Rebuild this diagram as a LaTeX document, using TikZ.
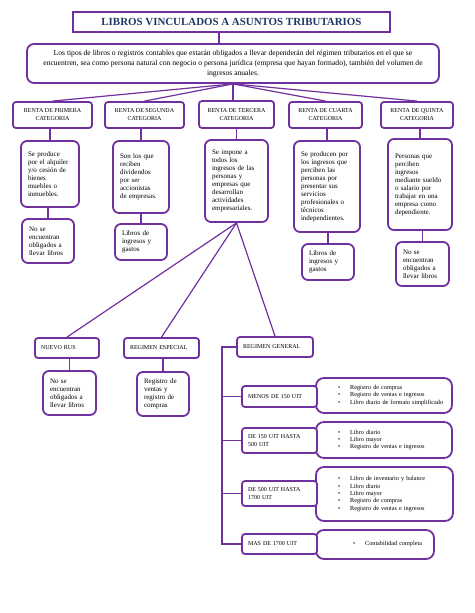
\documentclass[tikz,border=0pt]{standalone}
\usepackage{fontspec}
\setmainfont{Liberation Serif}
\usepackage{xcolor}
\usepackage{tikz}
\usetikzlibrary{positioning}

\definecolor{morado}{HTML}{7030A0}
\definecolor{azul}{HTML}{1F3864}

\begin{document}
\begin{tikzpicture}[
    x=1pt, y=-1pt,
    titulo/.style={rectangle, draw=morado, line width=1.8pt, fill=white, text=azul, font=\bfseries\fontsize{10.9}{13}\selectfont, minimum width=317pt, minimum height=20pt, inner sep=0pt},
    intro/.style={rectangle, rounded corners=7pt, draw=morado, line width=1.8pt, fill=white, align=center, font=\fontsize{7.6}{10}\selectfont, minimum width=412pt, minimum height=39pt, inner sep=0pt},
    renta/.style={rectangle, rounded corners=3pt, draw=morado, line width=1.8pt, fill=white, align=center, font=\fontsize{6}{8}\selectfont, minimum height=26pt, inner sep=0pt},
    caja/.style={rectangle, rounded corners=6pt, draw=morado, line width=1.8pt, fill=white, align=left, font=\fontsize{7}{8}\selectfont, inner xsep=7pt, inner ysep=0pt},
    regimen/.style={rectangle, rounded corners=3pt, draw=morado, line width=1.8pt, fill=white, align=left, font=\fontsize{6}{8}\selectfont, inner xsep=6pt, inner ysep=0pt, text width=63pt, minimum height=20pt},
    lista/.style={rectangle, rounded corners=8pt, draw=morado, line width=1.8pt, fill=white, align=left, font=\fontsize{6.2}{7.3}\selectfont, inner sep=0pt},
    linea/.style={draw=morado, line width=1.2pt}
]
\useasboundingbox (0,0) rectangle (474,613);

% titulo y texto general
\node[titulo] (titulo) at (231.5,22) {LIBROS VINCULADOS A ASUNTOS TRIBUTARIOS};
\node[intro] (intro) at (233,63.5) {Los tipos de libros o registros contables que estarán obligados a llevar dependerán del régimen tributarios en el que se\\encuentren, sea como persona natural con negocio o persona jurídica (empresa que hayan formado), también del volumen de\\ingresos anuales.};

% categorias de renta
\node[renta, minimum width=79pt] (r1) at (52.5,115) {RENTA DE PRIMERA\\CATEGORIA};
\node[renta, minimum width=79pt] (r2) at (144.5,115) {RENTA DE SEGUNDA\\CATEGORIA};
\node[renta, minimum width=75pt, minimum height=27pt] (r3) at (236.5,114.5) {RENTA DE TERCERA\\CATEGORIA};
\node[renta, minimum width=73pt] (r4) at (325.5,115) {RENTA DE CUARTA\\CATEGORIA};
\node[renta, minimum width=72pt] (r5) at (417,115) {RENTA DE QUINTA\\CATEGORIA};

% descripciones
\node[caja, text width=44pt, minimum height=66pt] (d1) at (50,174) {Se produce\\por el alquiler\\y/o cesión de\\bienes\\muebles o\\inmuebles.};
\node[caja, text width=38pt, minimum height=44pt] (d1b) at (48,241) {No se\\encuentran\\obligados a\\llevar libros};
\node[caja, text width=42pt, minimum height=72pt] (d2) at (141,177) {Son los que\\reciben\\dividendos\\por ser\\accionistas\\de empresas.};
\node[caja, text width=38pt, minimum height=36pt] (d2b) at (141,242) {Libros de\\ingresos y\\gastos};
\node[caja, text width=49pt, minimum height=82pt] (d3) at (236.5,181) {Se impone a\\todos los\\ingresos de las\\personas y\\empresas que\\desarrollan\\actividades\\empresariales.};
\node[caja, text width=52pt, minimum height=91pt] (d4) at (327,186.5) {Se producen por\\los ingresos que\\perciben las\\personas por\\presentar sus\\servicios\\profesionales o\\técnicos\\independientes.};
\node[caja, text width=38pt, minimum height=36pt] (d4b) at (328,262) {Libros de\\ingresos y\\gastos};
\node[caja, text width=50pt, minimum height=91pt] (d5) at (420,184.5) {Personas que\\perciben\\ingresos\\mediante sueldo\\o salario por\\trabajar en una\\empresa como\\dependiente.};
\node[caja, text width=39pt, minimum height=44pt] (d5b) at (422.5,264) {No se\\encuentran\\obligados a\\llevar libros};

% regimenes de tercera
\node[regimen, text width=52pt] (rus) at (67,348) {NUEVO RUS};
\node[caja, text width=39pt, minimum height=44pt] (rusd) at (69.5,393) {No se\\encuentran\\obligados a\\llevar libros};
\node[regimen] (esp) at (161.5,348) {REGIMEN ESPECIAL};
\node[caja, text width=38pt, minimum height=44pt] (espd) at (163,394) {Registro de\\ventas y\\registro de\\compras};
\node[regimen, text width=64pt] (gen) at (275,347) {REGIMEN GENERAL};

% libros del regimen general
\node[lista, text width=136pt, minimum height=35pt] (l1) at (384,395.5) {\begin{tabular}{@{\hspace{22pt}}l@{\hspace{10pt}}l@{}}
\textbullet & Registro de compras\\
\textbullet & Registro de ventas e ingresos\\
\textbullet & Libro diario de formato simplificado
\end{tabular}};
\node[lista, text width=136pt, minimum height=36pt] (l2) at (384,440) {\begin{tabular}{@{\hspace{22pt}}l@{\hspace{10pt}}l@{}}
\textbullet & Libro diario\\
\textbullet & Libro mayor\\
\textbullet & Registro de ventas e ingresos
\end{tabular}};
\node[lista, text width=137pt, minimum height=54pt] (l3) at (384.5,494) {\begin{tabular}{@{\hspace{22pt}}l@{\hspace{10pt}}l@{}}
\textbullet & Libro de inventario y balance\\
\textbullet & Libro diario\\
\textbullet & Libro mayor\\
\textbullet & Registro de compras\\
\textbullet & Registro de ventas e ingresos
\end{tabular}};
\node[lista, text width=118pt, minimum height=29pt] (l4) at (375,544.5) {\begin{tabular}{@{\hspace{37pt}}l@{\hspace{10pt}}l@{}}
\textbullet & Contabilidad completa
\end{tabular}};

\node[regimen, minimum height=21pt] (u1) at (279.5,396.5) {MENOS DE 150 UIT};
\node[regimen, minimum height=25pt] (u2) at (279.5,440.5) {DE 150 UIT HASTA\\500 UIT};
\node[regimen, minimum height=25pt] (u3) at (279.5,493.5) {DE 500 UIT HASTA\\1700 UIT};
\node[regimen] (u4) at (279.5,544) {MAS DE 1700 UIT};

% conectores
\draw[linea] ([xshift=-12.5pt]titulo.south) -- ([xshift=-12.5pt]titulo.south |- intro.north);
\draw[linea] (intro.south) -- (r1.north);
\draw[linea] (intro.south) -- (r2.north);
\draw[linea] (intro.south) -- (intro.south |- r3.north);
\draw[linea] (intro.south) -- (r4.north);
\draw[linea] (intro.south) -- (r5.north);

\draw[linea] (d1.north) -- (d1.north |- r1.south);
\draw[linea] (d1b.north) -- (d1b.north |- d1.south);
\draw[linea] (d2.north) -- (d2.north |- r2.south);
\draw[linea] (d2b.north) -- (d2b.north |- d2.south);
\draw[linea] (d3.north) -- (d3.north |- r3.south);
\draw[linea] (d4.north) -- (d4.north |- r4.south);
\draw[linea] (d4b.north) -- (d4b.north |- d4.south);
\draw[linea] (d5.north) -- (d5.north |- r5.south);
\draw[linea] (d5b.north) -- (d5b.north |- d5.south);

\draw[linea] (d3.south) -- (rus.north);
\draw[linea] (d3.south) -- (esp.north);
\draw[linea] (d3.south) -- (gen.north);
\draw[linea] (rusd.north) -- (rusd.north |- rus.south);
\draw[linea] (espd.north) -- (espd.north |- esp.south);

\coordinate (riel) at (222,347);
\draw[linea] (gen.west) -- (riel) |- (u4.west);
\foreach \u in {u1,u2,u3}
    \draw[linea] (riel |- \u.west) -- (\u.west);

\end{tikzpicture}
\end{document}
